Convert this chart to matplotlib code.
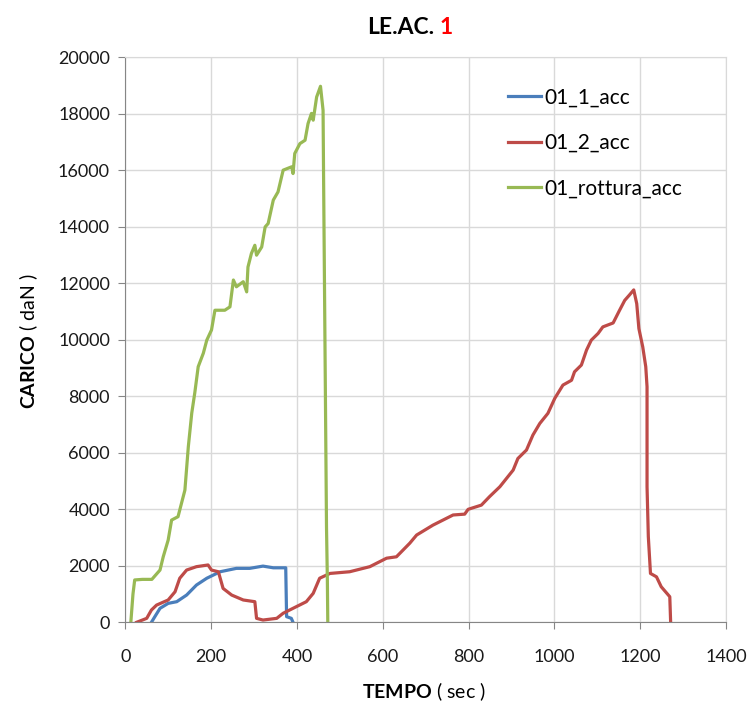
import matplotlib
matplotlib.use("Agg")
import matplotlib.pyplot as plt

plt.rcParams['font.family'] = ['Lato', 'DejaVu Sans']
plt.rcParams['mathtext.fontset'] = 'custom'
plt.rcParams['mathtext.rm'] = 'Lato'
plt.rcParams['mathtext.bf'] = 'Lato:bold'

# series (time in sec, load in daN)
t_acc1 = [61, 69, 81, 100, 120, 143, 166, 190, 221, 259, 290, 321, 345, 374, 376, 387, 391]
f_acc1 = [0, 200, 495, 670, 730, 965, 1320, 1560, 1790, 1910, 1910, 1990, 1930, 1930, 200, 140, 0]

t_acc2 = [26.5, 50, 61, 73, 100, 116, 127, 143, 166, 193, 201, 217, 228, 248, 275, 302, 306,
          321, 353, 368, 391, 422, 438, 453, 477, 523, 570, 609, 632, 663, 679, 717, 764, 791,
          799, 830, 849, 873, 904, 915, 935, 950, 966, 985, 1001, 1020, 1040, 1047, 1063, 1075,
          1086, 1102, 1113, 1137, 1152, 1164, 1175, 1185, 1192, 1197, 1206, 1213, 1216, 1216,
          1219, 1224, 1238, 1249, 1269, 1271]
f_acc2 = [0, 140, 435, 610, 790, 1080, 1560, 1850, 1970, 2030, 1850, 1790, 1200, 965, 790, 730, 140,
          80, 140, 320, 495, 730, 1025, 1560, 1730, 1790, 1970, 2270, 2320, 2800, 3090, 3440, 3800, 3830,
          4000, 4150, 4450, 4800, 5390, 5800, 6100, 6630, 7040, 7400, 7930, 8400, 8570, 8870, 9110, 9640,
          9990, 10230, 10460, 10600, 11050, 11400, 11590, 11770, 11280, 10400, 9750, 9050, 8340, 4800,
          3030, 1730, 1610, 1260, 905, 0]

t_rott = [13, 18, 22, 40, 62, 81, 88.5, 100, 108, 123, 131, 139, 147, 155, 162, 170, 182, 190, 201,
          209, 232, 244, 252, 259, 275, 283, 286, 294, 302, 306, 318, 326, 333, 345, 356, 368, 388,
          391, 395, 407, 419, 426, 434, 438, 446, 455, 461, 462, 469, 471, 472]
f_rott = [0, 1000, 1500, 1520, 1520, 1850, 2320, 2910, 3620, 3740, 4210, 4680, 6220, 7410, 8120, 9050,
          9530, 9990, 10350, 11050, 11050, 11170, 12120, 11880, 12060, 11700, 12580, 13060, 13350, 13000,
          13290, 14000, 14120, 14950, 15240, 16010, 16130, 15890, 16600, 16950, 17070, 17660, 18020,
          17780, 18600, 18980, 18130, 16150, 3380, 1500, 0]

series_names = ['01_1_acc', '01_2_acc', '01_rottura_acc']
series_colors = ['#4A7EBB', '#BE4B48', '#98B954']

x_ticks = [0, 200, 400, 600, 800, 1000, 1200, 1400]
y_ticks = [0, 2000, 4000, 6000, 8000, 10000, 12000, 14000, 16000, 18000, 20000]

fig = plt.figure(figsize=(7.5, 7.07), dpi=100)
ax = fig.add_axes([0.167, 0.1198, 0.801, 0.7989])

for t, f, name, c in zip([t_acc1, t_acc2, t_rott], [f_acc1, f_acc2, f_rott], series_names, series_colors):
    ax.plot(t, f, color=c, lw=2.3, label=name, solid_joinstyle='round')

ax.set_xlim(0, 1400)
ax.set_ylim(0, 20000)
ax.set_xticks(x_ticks)
ax.set_yticks(y_ticks)
ax.grid(True, color='#D9D9D9', lw=1)
ax.set_axisbelow(True)
for s in ['top', 'right']:
    ax.spines[s].set_color('#D9D9D9')
for s in ['left', 'bottom']:
    ax.spines[s].set_color('#868686')
ax.tick_params(direction='out', length=5, color='#868686', labelsize=13,
               labelcolor='#1a1a1a', pad=6)
ax.tick_params(axis='x', pad=14)

ax.legend(loc='upper left', bbox_to_anchor=(0.637, 0.947), frameon=False, fontsize=15,
          handlelength=1.6, handletextpad=0.15, labelspacing=1.22, borderpad=0, borderaxespad=0)

fig.text(424 / 750, 1 - 692 / 707, r'$\mathbf{TEMPO}$ ( sec )', ha='center', va='center', fontsize=14)
fig.text(29 / 750, 1 - 341 / 707, r'$\mathbf{CARICO}$ ( daN )', ha='center', va='center',
         rotation=90, fontsize=14)
fig.text(434 / 750, 1 - 28 / 707, 'LE.AC.', ha='right', va='center', fontsize=16.5, fontweight='bold')
fig.text(440 / 750, 1 - 28 / 707, '1', ha='left', va='center', fontsize=16.5, fontweight='bold',
         color='#FF0000')

fig.savefig('out.png', dpi=100)
